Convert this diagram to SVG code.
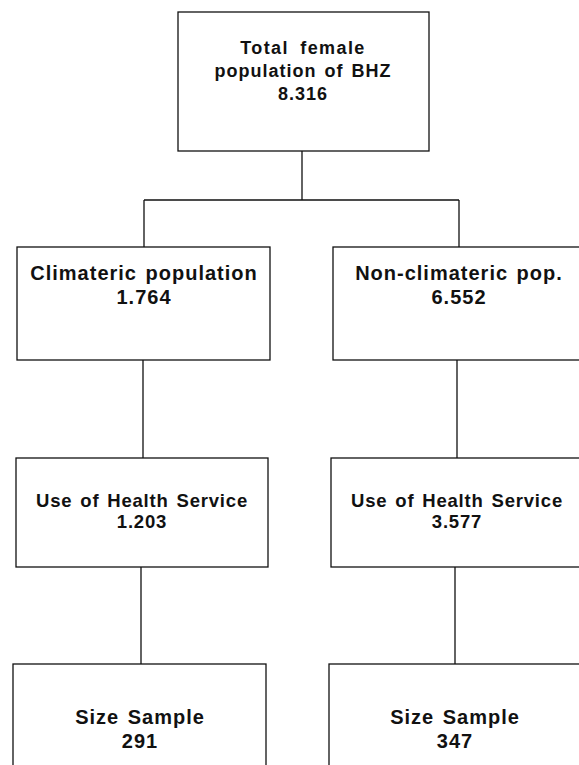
<svg xmlns="http://www.w3.org/2000/svg" width="579" height="765" viewBox="0 0 579 765">
<style>
.box{fill:#fff;stroke:#111;stroke-width:1.3}
.ln{fill:none;stroke:#111;stroke-width:1.3}
text{font-family:"Liberation Sans",Arial,Helvetica,sans-serif;font-weight:bold;fill:#111;text-anchor:middle;word-spacing:2px}
.t0{font-size:18px;letter-spacing:1px}
.t1{font-size:20px;letter-spacing:1px}
.t2{font-size:18.5px;letter-spacing:0.8px}
.t3{font-size:20px;letter-spacing:1px}
</style>
<rect width="579" height="765" fill="#fff"/>
<g id="connectors">
<path class="ln" d="M302,151 V200 M144,200 H459 M144,200 V247 M459,200 V247"/>
<path class="ln" d="M143,360 V458 M457,360 V458"/>
<path class="ln" d="M141,567 V664 M455,567 V664"/>
</g>
<g id="total">
<rect class="box" x="178" y="12" width="251" height="139"/>
<text class="t0" x="303" y="54" style="letter-spacing:1.4px;word-spacing:5px">Total female</text>
<text class="t0" x="303" y="77">population of BHZ</text>
<text class="t0" x="303" y="100">8.316</text>
</g>
<g id="climateric">
<rect class="box" x="17" y="247" width="253" height="113"/>
<text class="t1" x="144" y="280">Climateric population</text>
<text class="t1" x="144" y="304">1.764</text>
</g>
<g id="nonclimateric">
<rect class="box" x="333" y="247" width="260" height="113"/>
<text class="t1" x="459" y="280">Non-climateric pop.</text>
<text class="t1" x="459" y="304">6.552</text>
</g>
<g id="health-left">
<rect class="box" x="16" y="458" width="252" height="109"/>
<text class="t2" x="142" y="507">Use of Health Service</text>
<text class="t2" x="142" y="528">1.203</text>
</g>
<g id="health-right">
<rect class="box" x="331" y="458" width="260" height="109"/>
<text class="t2" x="457" y="507">Use of Health Service</text>
<text class="t2" x="457" y="528">3.577</text>
</g>
<g id="sample-left">
<rect class="box" x="13" y="664" width="253" height="120"/>
<text class="t3" x="140" y="724">Size Sample</text>
<text class="t3" x="140" y="748">291</text>
</g>
<g id="sample-right">
<rect class="box" x="329" y="664" width="260" height="120"/>
<text class="t3" x="455" y="724">Size Sample</text>
<text class="t3" x="455" y="748">347</text>
</g>
</svg>
